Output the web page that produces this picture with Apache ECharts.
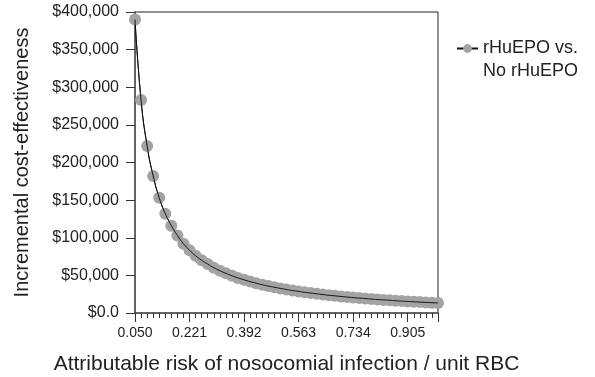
<!DOCTYPE html>
<html>
<head>
<meta charset="utf-8">
<script src="https://cdn.jsdelivr.net/npm/echarts@6/dist/echarts.min.js"></script>
<style>
  html, body { margin: 0; padding: 0; background: #fff; }
  #chart { width: 595px; height: 377px; }
</style>
</head>
<body>
<div id="chart"></div>
<script>
// attributable risk per unit RBC
const riskValues = [
  0.050, 0.069, 0.088, 0.107, 0.126, 0.145, 0.164, 0.183, 0.202, 0.221,
  0.240, 0.259, 0.278, 0.297, 0.316, 0.335, 0.354, 0.373, 0.392, 0.411,
  0.430, 0.449, 0.468, 0.487, 0.506, 0.525, 0.544, 0.563, 0.582, 0.601,
  0.620, 0.639, 0.658, 0.677, 0.696, 0.715, 0.734, 0.753, 0.772, 0.791,
  0.810, 0.829, 0.848, 0.867, 0.886, 0.905, 0.924, 0.943, 0.962, 0.981,
  1.000
]
// incremental cost-effectiveness ($)
const costValues = [
  390000, 283000, 222000, 182000, 153000, 132000, 116000, 103000, 92000, 83500,
  76000, 70000, 65000, 60200, 56200, 52700, 49500, 46600, 44100, 41700,
  39600, 37600, 35800, 34200, 32700, 31200, 29900, 28700, 27500, 26500,
  25500, 24500, 23600, 22800, 22000, 21200, 20500, 19800, 19200, 18500,
  17900, 17400, 16900, 16300, 15800, 15400, 14900, 14500, 14100, 13700,
  13300
]
const seriesName = 'rHuEPO vs.\nNo rHuEPO'

const points = riskValues.map((x, i) => [x, costValues[i]])

const chart = echarts.init(document.getElementById('chart'))

const fmtMoney = v => {
  if (v === 0) return '$0.0'
  return '$' + v.toString().replace(/\B(?=(\d{3})+(?!\d))/g, ',')
}

chart.setOption({
  animation: false,
  textStyle: { fontFamily: 'Liberation Sans, Arial, sans-serif' },
  grid: {
    left: 135, right: 157, top: 12, bottom: 64,
    outerBoundsMode: 'none',
    show: true, borderColor: '#222', borderWidth: 1
  },
  legend: {
    data: [seriesName],
    left: 451, top: 9,
    itemWidth: 21, itemHeight: 11,
    itemGap: 5,
    // leading blank line keeps the icon level with the first text line
    formatter: name => '\n' + name,
    textStyle: { fontSize: 18, color: '#222', lineHeight: 23 }
  },
  xAxis: {
    type: 'value',
    min: 0.05, max: 1.0, interval: 0.171,
    name: 'Attributable risk of nosocomial infection / unit RBC',
    nameLocation: 'middle', nameGap: 41,
    nameTextStyle: { fontSize: 21, color: '#222' },
    axisLine: { lineStyle: { color: '#555', width: 1.5 } },
    axisTick: { length: 9, lineStyle: { color: '#333' } },
    minorTick: { show: true, splitNumber: 9, length: 5, lineStyle: { color: '#333' } },
    axisLabel: {
      fontSize: 14, color: '#222', margin: 13,
      showMaxLabel: false,
      formatter: v => v.toFixed(3)
    },
    splitLine: { show: false }
  },
  yAxis: {
    type: 'value',
    min: 0, max: 400000, interval: 50000,
    name: 'Incremental cost-effectiveness',
    nameLocation: 'middle', nameGap: 103,
    nameTextStyle: { fontSize: 20, color: '#222' },
    axisLine: { show: true, lineStyle: { color: '#555', width: 1.5 } },
    axisTick: { show: true, length: 9, lineStyle: { color: '#333' } },
    axisLabel: { fontSize: 16, color: '#222', margin: 16, formatter: fmtMoney },
    splitLine: { show: false }
  },
  series: [
    {
      name: seriesName,
      type: 'line',
      data: points,
      symbol: 'circle',
      symbolSize: 12,
      itemStyle: { color: '#a3a3a3' },
      lineStyle: { color: '#111', width: 1 },
      smooth: true,
      z: 2
    },
    {
      name: 'curve',
      type: 'line',
      data: points,
      showSymbol: false,
      lineStyle: { color: '#111', width: 1 },
      smooth: true,
      z: 3
    }
  ]
})
</script>
</body>
</html>
